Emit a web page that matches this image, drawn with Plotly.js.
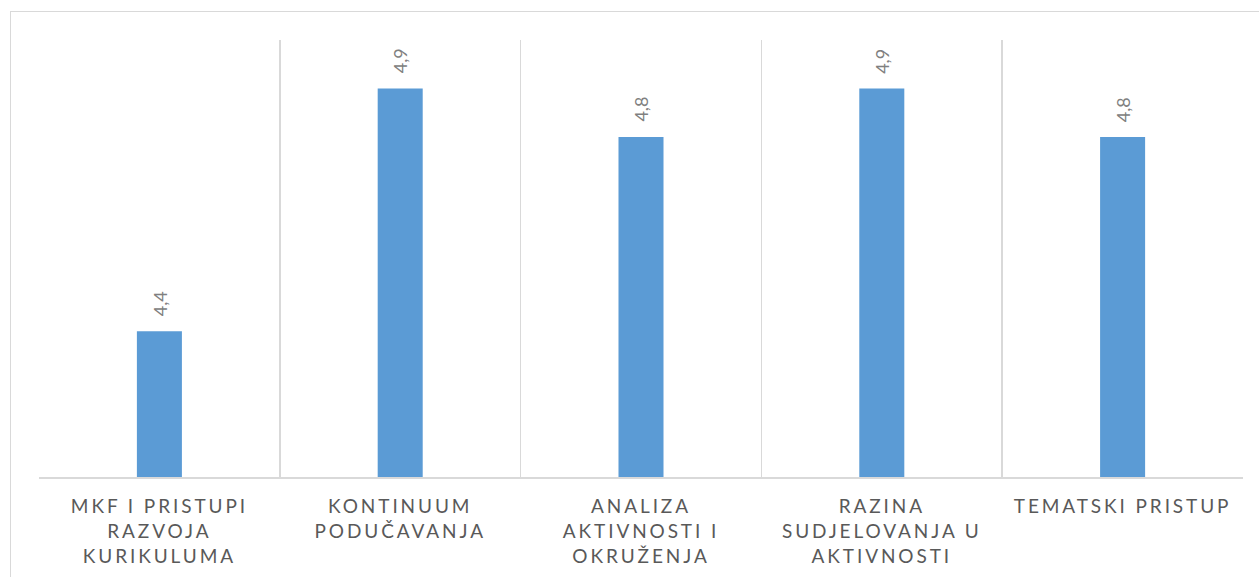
<!DOCTYPE html>
<html>
<head>
<meta charset="utf-8">
<script src="https://cdn.plot.ly/plotly-3.0.1.min.js"></script>
<style>
  html, body { margin: 0; padding: 0; background: #fff; overflow: hidden; }
  #frame { position: absolute; left: 10px; top: 11px; width: 1270px; height: 600px; border: 1px solid #d9d9d9; box-sizing: border-box; pointer-events: none; }
  #chart { position: absolute; left: 0; top: 0; width: 1259px; height: 577px; }
  .xtick text, .xtick tspan { letter-spacing: 2.9px; }
</style>
</head>
<body>
<div id="frame"></div>
<div id="chart"></div>
<script>
const categories = [
  "MKF I PRISTUPI<br>RAZVOJA<br>KURIKULUMA",
  "KONTINUUM<br>PODUČAVANJA",
  "ANALIZA<br>AKTIVNOSTI I<br>OKRUŽENJA",
  "RAZINA<br>SUDJELOVANJA U<br>AKTIVNOSTI",
  "TEMATSKI PRISTUP"
];
const values = [4.4, 4.9, 4.8, 4.9, 4.8];
const valueLabels = ["4,4", "4,9", "4,8", "4,9", "4,8"];

const trace = {
  type: "bar",
  x: categories,
  y: values,
  marker: { color: "#5b9bd5" },
  hoverinfo: "none"
};

const annotations = categories.map((c, i) => ({
  x: c, y: values[i], xref: "x", yref: "y",
  text: valueLabels[i], showarrow: false,
  textangle: -90, xanchor: "center", yanchor: "bottom", yshift: 13,
  font: { family: "Lato, 'Open Sans', sans-serif", size: 18, color: "#808080" }
}));

const layout = {
  width: 1259, height: 577,
  margin: { l: 39, r: 16, t: 40, b: 100 },
  paper_bgcolor: "rgba(0,0,0,0)",
  plot_bgcolor: "rgba(0,0,0,0)",
  bargap: 0.813,
  showlegend: false,
  xaxis: {
    type: "category",
    tickson: "boundaries",
    showgrid: true, gridcolor: "#d9d9d9", gridwidth: 1.5,
    showline: true, linecolor: "#d9d9d9", linewidth: 1.5,
    ticks: "", ticklen: 0,
    ticklabelstandoff: 12,
    tickfont: { family: "Lato, 'Open Sans', sans-serif", size: 19, color: "#595959" },
    tickangle: 0,
    fixedrange: true
  },
  yaxis: {
    range: [4.1, 5.0],
    showgrid: false, zeroline: false, showline: false,
    showticklabels: false, ticks: "",
    fixedrange: true
  },
  annotations: annotations
};

Plotly.newPlot("chart", [trace], layout, { displayModeBar: false, staticPlot: true });
</script>
</body>
</html>
